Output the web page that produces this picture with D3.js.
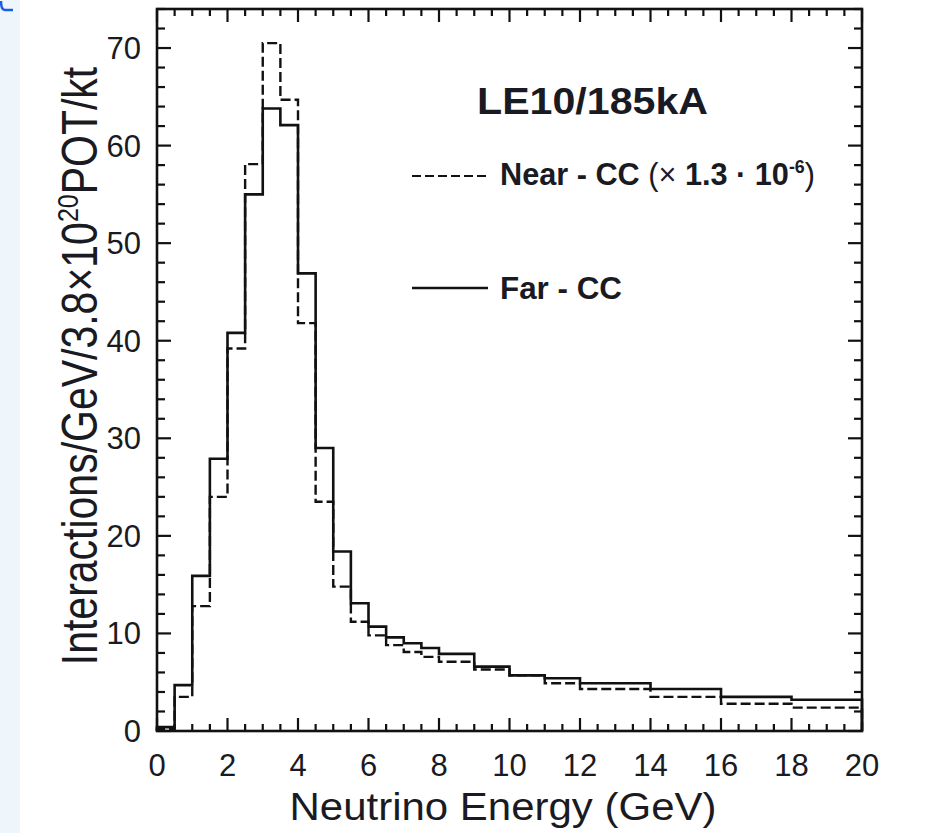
<!DOCTYPE html>
<html>
<head>
<meta charset="utf-8">
<script src="https://cdn.jsdelivr.net/npm/d3@7"></script>
<style>
body { margin: 0; background: #ffffff; }
text { font-family: "Liberation Sans", Arial, sans-serif; fill: #1a1a22; }
</style>
</head>
<body>
<script>
// bin edges (GeV) and contents
var binEdges = [0, 0.5, 1, 1.5, 2, 2.5, 3, 3.5, 4, 4.5, 5, 5.5, 6, 6.5, 7, 7.5, 8, 9, 10, 11, 12, 14, 16, 18, 20];
var farCC = [0.4, 4.7, 15.9, 27.9, 40.8, 55.0, 63.8, 62.1, 46.9, 29.0, 18.4, 13.1, 10.7, 9.6, 9.0, 8.5, 7.9, 6.6, 5.7, 5.4, 4.9, 4.3, 3.5, 3.2];
var nearCC = [0.2, 3.5, 12.8, 24.0, 39.2, 58.1, 70.5, 64.7, 41.8, 23.5, 14.8, 11.2, 9.8, 8.8, 8.1, 7.6, 7.1, 6.3, 5.7, 4.9, 4.3, 3.5, 2.8, 2.4];
var xTicks = [0, 2, 4, 6, 8, 10, 12, 14, 16, 18, 20];
var yTicks = [0, 10, 20, 30, 40, 50, 60, 70];

var svg = d3.select("body").append("svg")
    .attr("width", 928)
    .attr("height", 833);

// light blue strip from the slide
svg.append("rect")
    .attr("x", 0).attr("y", 0)
    .attr("width", 20).attr("height", 833)
    .attr("fill", "#eef6fc");
svg.append("path")
    .attr("d", "M1,1 Q1,10 5,10 L13,10")
    .attr("stroke", "#1a5ee8")
    .attr("stroke-width", 2.5)
    .attr("fill", "none");

var x = d3.scaleLinear().domain([0, 20]).range([157, 862]);
var y = d3.scaleLinear().domain([0, 74]).range([731, 9]);

function histPoints(values) {
    var pts = [[binEdges[0], 0]];
    values.forEach(function(v, i) {
        pts.push([binEdges[i], v]);
    });
    pts.push([binEdges[binEdges.length - 1], values[values.length - 1]]);
    pts.push([binEdges[binEdges.length - 1], 0]);
    return pts;
}

var line = d3.line()
    .x(function(d) { return x(d[0]); })
    .y(function(d) { return y(d[1]); })
    .curve(d3.curveStepAfter);

svg.append("path")
    .attr("d", line(histPoints(nearCC)))
    .attr("fill", "none")
    .attr("stroke", "#111")
    .attr("stroke-width", 2.4)
    .attr("stroke-dasharray", "10,4");

svg.append("path")
    .attr("d", line(histPoints(farCC)))
    .attr("fill", "none")
    .attr("stroke", "#111")
    .attr("stroke-width", 2.6);

// ticks on all four sides, pointing inward
var xMinor = d3.range(0, 20.01, 0.5);
var yMinor = d3.range(0, 74.01, 2);
var ticks = svg.append("g").attr("stroke", "#111").attr("stroke-width", 2.2);
xMinor.forEach(function(v) {
    var len = (v % 2 === 0) ? 13 : 7;
    ticks.append("line").attr("x1", x(v)).attr("x2", x(v)).attr("y1", y(0)).attr("y2", y(0) - len);
    ticks.append("line").attr("x1", x(v)).attr("x2", x(v)).attr("y1", y(74)).attr("y2", y(74) + len);
});
yMinor.forEach(function(v) {
    var len = (v % 10 === 0) ? 14 : 8;
    ticks.append("line").attr("x1", x(0)).attr("x2", x(0) + len).attr("y1", y(v)).attr("y2", y(v));
    ticks.append("line").attr("x1", x(20)).attr("x2", x(20) - len).attr("y1", y(v)).attr("y2", y(v));
});

// frame
svg.append("rect")
    .attr("x", x(0)).attr("y", y(74))
    .attr("width", x(20) - x(0)).attr("height", y(0) - y(74))
    .attr("fill", "none")
    .attr("stroke", "#111")
    .attr("stroke-width", 2.6);

// tick labels
svg.selectAll("text.xt")
    .data(xTicks)
    .enter()
    .append("text")
    .attr("class", "xt")
    .attr("x", function(d) { return x(d); })
    .attr("y", 776)
    .attr("text-anchor", "middle")
    .attr("font-size", 31)
    .text(function(d) { return d; });

svg.selectAll("text.yt")
    .data(yTicks)
    .enter()
    .append("text")
    .attr("class", "yt")
    .attr("x", 141)
    .attr("y", function(d) { return y(d) + 11; })
    .attr("text-anchor", "end")
    .attr("font-size", 31)
    .text(function(d) { return d; });

// axis titles
svg.append("text")
    .attr("x", 503)
    .attr("y", 820)
    .attr("text-anchor", "middle")
    .attr("font-size", 38)
    .attr("textLength", 427)
    .attr("lengthAdjust", "spacingAndGlyphs")
    .text("Neutrino Energy (GeV)");

var yTitle = svg.append("text")
    .attr("transform", "translate(97,366) scale(1.2,1) rotate(-90)")
    .attr("text-anchor", "middle")
    .attr("font-size", 41);
yTitle.append("tspan").text("Interactions/GeV/3.8\u00d710");
yTitle.append("tspan").attr("font-size", 25).attr("dy", -16).text("20");
yTitle.append("tspan").attr("dy", 16).text("POT/kt");

// legend
svg.append("text")
    .attr("x", 477)
    .attr("y", 114)
    .attr("font-size", 36)
    .attr("font-weight", "bold")
    .attr("textLength", 231)
    .attr("lengthAdjust", "spacingAndGlyphs")
    .text("LE10/185kA");

svg.append("line")
    .attr("x1", 412).attr("x2", 488).attr("y1", 176).attr("y2", 176)
    .attr("stroke", "#111").attr("stroke-width", 2.2)
    .attr("stroke-dasharray", "9,4");
var nearLabel = svg.append("text")
    .attr("x", 500)
    .attr("y", 185)
    .attr("font-size", 31)
    .attr("font-weight", "bold")
    .attr("textLength", 315)
    .attr("lengthAdjust", "spacingAndGlyphs");
nearLabel.append("tspan").text("Near - CC ");
nearLabel.append("tspan").attr("font-weight", "normal").text("(\u00d7 ");
nearLabel.append("tspan").text("1.3 \u00b7 10");
nearLabel.append("tspan").attr("font-size", 18).attr("dy", -12).text("-6");
nearLabel.append("tspan").attr("dy", 12).attr("font-weight", "normal").text(")");

svg.append("line")
    .attr("x1", 412).attr("x2", 488).attr("y1", 288).attr("y2", 288)
    .attr("stroke", "#111").attr("stroke-width", 2.4);
svg.append("text")
    .attr("x", 500)
    .attr("y", 299)
    .attr("font-size", 31)
    .attr("font-weight", "bold")
    .attr("textLength", 122)
    .attr("lengthAdjust", "spacingAndGlyphs")
    .text("Far - CC");
</script>
</body>
</html>
